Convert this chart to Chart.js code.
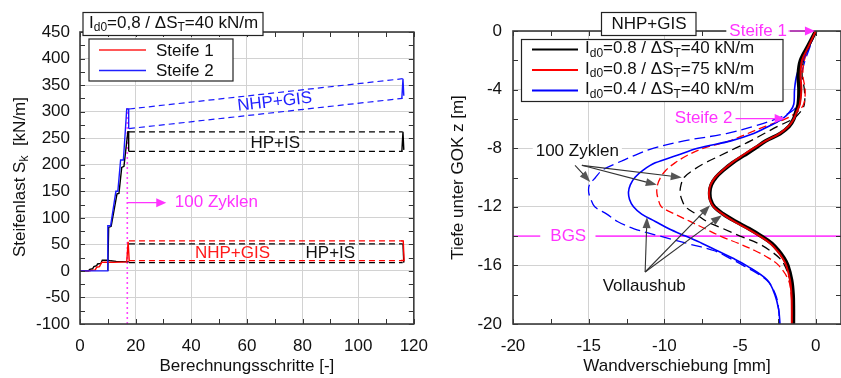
<!DOCTYPE html>
<html>
<head>
<meta charset="utf-8">
<script src="https://cdn.jsdelivr.net/npm/chart.js@4.4.1/dist/chart.umd.min.js"></script>
<style>
  body { margin: 0; background: #fff; }
  #wrap { position: relative; width: 841px; height: 378px; overflow: hidden; }
  .pane { position: absolute; top: 0; height: 378px; }
</style>
</head>
<body>
<div id="wrap">
  <div class="pane" style="left:0;width:440px"><canvas id="left"></canvas></div>
  <div class="pane" style="left:420px;width:421px"><canvas id="right"></canvas></div>
</div>
<script>
const FONT = '"Liberation Sans", Arial, sans-serif';

// ---------- linkes Bild: Steifenlast ueber Berechnungsschritte ----------
// Steife 1, NHP+GIS (rot) und HP+IS (schwarz)
const redS1X = [0, 3.5, 4, 5.5, 6, 7, 7.8, 9, 12, 16.8, 17.3, 17.7];
const redS1Y = [0, 0, 1, 2, 7, 8, 16, 16.5, 16, 17, 55, 18];
const hpS1X = [0, 3, 3.5, 4.5, 5, 6, 6.3, 7.5, 8, 10, 11, 13, 15, 17.6];
const hpS1Y = [0, 0, 3, 4, 8, 10, 13, 14, 20, 20, 19, 18, 17.5, 17];
// Steife 2, NHP+GIS (blau) und HP+IS (schwarz)
const blueS2X = [0, 10, 10, 11, 12.9, 13.6, 14.6, 15.6, 16.8, 17.5, 17.5];
const blueS2Y = [0, 0, 85, 85, 150, 150, 209, 209, 305, 305, 268];
const hpS2X = [10, 10.3, 11.2, 13.3, 14, 15, 15.8, 17.2, 17.5, 17.5];
const hpS2Y = [0, 82, 84, 145, 146, 195, 197, 262, 262, 225];
// 100 Zyklen: Einhuellende (Max / Min)
const cycX = [17.6, 116];
const blueMax = [305, 362], blueMin = [268, 325];
const hpS2Max = [262, 262], hpS2Min = [225, 225];
const redMax = [56.5, 56.5], redMin = [19.5, 19.5];
const hpS1Max = [51, 51], hpS1Min = [15.6, 15.6];
// letzter Zyklus
const blueEndX = [115.7, 116.1, 116.4], blueEndY = [325, 362, 330];
const hpS2EndX = [115.7, 116.1, 116.4], hpS2EndY = [225, 262, 228];
const redEndX = [115.4, 116.2, 116.5, 115.4], redEndY = [56.5, 56.5, 19.5, 19.5];
const hpS1EndX = [116.1, 116.4], hpS1EndY = [51, 15.6];
// Beginn der Zyklen
const zykStepX = [17, 17], zykStepY = [-100, 307];

// ---------- rechtes Bild: Wandverschiebung ueber Tiefe ----------
const depth = [0, -1, -2, -3, -4, -5, -5.5, -6, -6.5, -7, -7.5, -8, -8.5, -9, -9.5, -10,
  -10.5, -11, -11.5, -12, -12.5, -13, -13.5, -14, -14.5, -15, -15.5, -16, -17, -18, -19, -20];
const blackFull = [0, -0.5, -1.0, -1.15, -1.1, -1.15, -1.3, -1.45, -1.75, -2.35, -3.3, -4.0, -4.75, -5.5, -6.1, -6.6,
  -6.9, -7.0, -6.95, -6.7, -6.1, -5.3, -4.4, -3.6, -2.9, -2.45, -2.1, -1.85, -1.6, -1.5, -1.48, -1.48];
const redFull = [0, -0.45, -0.9, -1.0, -0.95, -1.05, -1.25, -1.45, -1.8, -2.4, -3.3, -4.1, -4.85, -5.55, -6.15, -6.65,
  -6.95, -7.05, -7.0, -6.75, -6.15, -5.4, -4.5, -3.7, -3.0, -2.55, -2.2, -1.95, -1.7, -1.6, -1.58, -1.58];
const blueFull = [0, -0.4, -0.85, -1.25, -1.4, -1.45, -1.7, -2.2, -3.1, -4.1, -5.6, -7.8, -9.2, -10.6, -11.4, -11.95,
  -12.25, -12.37, -12.3, -12.04, -11.5, -10.6, -9.7, -8.6, -7.5, -6.5, -5.5, -4.6, -3.2, -2.7, -2.45, -2.36];
const blackCyc = [0, -0.4, -0.8, -0.9, -0.75, -0.75, -1.0, -1.5, -2.5, -3.4, -4.3, -5.3, -6.3, -7.3, -8.1, -8.7,
  -8.9, -8.96, -8.85, -8.6, -7.9, -7.2, -6.1, -5.0, -3.8, -3.0, -2.4, -2.05, -1.7, -1.55, -1.5, -1.5];
const redCyc = [0, -0.4, -0.75, -0.85, -0.7, -0.8, -1.2, -2.0, -3.3, -4.5, -5.7, -7.4, -8.5, -9.3, -9.9, -10.25,
  -10.45, -10.5, -10.4, -10.2, -9.3, -8.3, -7.3, -6.3, -5.1, -4.0, -3.1, -2.45, -1.8, -1.62, -1.58, -1.58];
const blueCyc = [0, -0.35, -0.7, -0.95, -1.05, -1.2, -1.6, -2.6, -4.1, -5.9, -8.7, -10.7, -12.0, -13.1, -14.1, -14.55,
  -14.95, -15.0, -14.85, -14.6, -13.8, -13.1, -12.0, -10.3, -8.5, -6.7, -5.7, -4.8, -3.25, -2.65, -2.45, -2.4];
const bgsDepth = -14;
const bgsLeftX = [-20, -18.2], bgsRightX = [-14.55, 1.7];
const dispTicks = [-20, -15, -10, -5, 0];

// ---------- helpers ----------
function series(xs, ys, color, width, dash) {
  return {
    data: xs.map((x, i) => ({ x: x, y: ys[i] })),
    showLine: true, borderColor: color, backgroundColor: color,
    borderWidth: width, borderDash: dash || [], pointRadius: 0, tension: 0
  };
}
function profile(vals, color, width, dash) {
  const s = series(vals, depth, color, width, dash);
  s.tension = 0.35;
  return s;
}

function rich(ctx, parts, x, y, size, color, dry) {
  ctx.fillStyle = color;
  ctx.textBaseline = 'middle';
  ctx.textAlign = 'left';
  let cx = x;
  for (const p of parts) {
    const sub = p[1];
    ctx.font = (sub ? Math.round(size * 0.72) : size) + 'px ' + FONT;
    if (!dry) ctx.fillText(p[0], cx, sub ? y + size * 0.3 : y);
    cx += ctx.measureText(p[0]).width;
  }
  return cx - x;
}
function text(ctx, s, x, y, color, align, bg) {
  ctx.font = '17px ' + FONT;
  ctx.textAlign = align || 'left';
  ctx.textBaseline = 'middle';
  if (bg) {
    const w = ctx.measureText(s).width;
    const x0 = align === 'right' ? x - w : align === 'center' ? x - w / 2 : x;
    ctx.fillStyle = '#fff';
    ctx.fillRect(x0 - 3, y - 9, w + 6, 18);
  }
  ctx.fillStyle = color;
  ctx.fillText(s, x, y);
}
function box(ctx, x0, y0, x1, y1) {
  ctx.fillStyle = '#fff';
  ctx.fillRect(x0, y0, x1 - x0, y1 - y0);
  ctx.strokeStyle = '#222';
  ctx.lineWidth = 1.2;
  ctx.strokeRect(x0, y0, x1 - x0, y1 - y0);
}
function arrow(ctx, x0, y0, x1, y1, line, head, len, wid) {
  const a = Math.atan2(y1 - y0, x1 - x0), c = Math.cos(a), s = Math.sin(a);
  ctx.strokeStyle = line;
  ctx.lineWidth = 1.1;
  ctx.beginPath();
  ctx.moveTo(x0, y0);
  ctx.lineTo(x1 - c * len * 0.7, y1 - s * len * 0.7);
  ctx.stroke();
  ctx.fillStyle = head;
  ctx.beginPath();
  ctx.moveTo(x1, y1);
  ctx.lineTo(x1 - c * len - s * wid / 2, y1 - s * len + c * wid / 2);
  ctx.lineTo(x1 - c * len + s * wid / 2, y1 - s * len - c * wid / 2);
  ctx.closePath();
  ctx.fill();
}
function frame(ctx, a, xs, ys, xStep, yStep) {
  ctx.save();
  ctx.strokeStyle = '#333';
  ctx.lineWidth = 1;
  ctx.beginPath();
  for (let v = xs.min; v <= xs.max + 1e-6; v += xStep) {
    const p = Math.round(xs.getPixelForValue(v)) + 0.5;
    ctx.moveTo(p, a.bottom); ctx.lineTo(p, a.bottom - 5);
    ctx.moveTo(p, a.top); ctx.lineTo(p, a.top + 5);
  }
  for (let v = ys.min; v <= ys.max + 1e-6; v += yStep) {
    const p = Math.round(ys.getPixelForValue(v)) + 0.5;
    ctx.moveTo(a.left, p); ctx.lineTo(a.left + 5, p);
    ctx.moveTo(a.right, p); ctx.lineTo(a.right - 5, p);
  }
  ctx.stroke();
  ctx.lineWidth = 1.6;
  ctx.strokeStyle = '#3a3a3a';
  ctx.strokeRect(a.left, a.top, a.right - a.left, a.bottom - a.top);
  ctx.restore();
}
const tickFont = { family: FONT, size: 17 };
const gridOpt = { color: '#d2d2d2', lineWidth: 1, drawTicks: false };

// ---------- left chart ----------
const leftNotes = [
  { text: 'HP+IS', x: 70.2, y: 241, color: '#111' },
  { text: 'NHP+GIS', x: 54.8, y: 33.3, color: '#ff1a1a' },
  { text: 'HP+IS', x: 90, y: 33.3, color: '#111' }
];
const leftDeco = {
  id: 'leftDeco',
  afterDatasetsDraw(chart) {
    const { ctx, chartArea: a, scales: { x, y } } = chart;
    ctx.save();
    frame(ctx, a, x, y, 10, 25);
    leftNotes.forEach(n => text(ctx, n.text, x.getPixelForValue(n.x), y.getPixelForValue(n.y), n.color, 'center'));
    // sloped label along the NHP+GIS band
    const ang = Math.atan2(y.getPixelForValue(blueMax[1]) - y.getPixelForValue(blueMax[0]),
      x.getPixelForValue(cycX[1]) - x.getPixelForValue(cycX[0]));
    ctx.save();
    ctx.translate(x.getPixelForValue(70), y.getPixelForValue(318));
    ctx.rotate(ang);
    text(ctx, 'NHP+GIS', 0, 0, '#1f1fff', 'center');
    ctx.restore();
    // 100 Zyklen
    arrow(ctx, x.getPixelForValue(17.2), y.getPixelForValue(128.6), x.getPixelForValue(31), y.getPixelForValue(128.6),
      '#ff33ff', '#ff33ff', 10, 9);
    text(ctx, '100 Zyklen', x.getPixelForValue(34.1), y.getPixelForValue(128.6), '#ff33ff', 'left');
    // title box
    box(ctx, 83, 12.5, 263, 35.5);
    rich(ctx, [['I'], ['d0', 1], ['=0,8 / \u0394S'], ['T', 1], ['=40 kN/m']], 89, 23, 17, '#111');
    // legend
    box(ctx, 89, 39, 233, 81);
    ctx.lineWidth = 1.3;
    ctx.strokeStyle = '#ff2020';
    ctx.beginPath(); ctx.moveTo(99, 50); ctx.lineTo(146, 50); ctx.stroke();
    ctx.strokeStyle = '#2020ff';
    ctx.beginPath(); ctx.moveTo(99, 70.5); ctx.lineTo(146, 70.5); ctx.stroke();
    text(ctx, 'Steife 1', 156, 51, '#111');
    text(ctx, 'Steife 2', 156, 71, '#111');
    // y title with subscript
    ctx.save();
    ctx.translate(20, 177);
    ctx.rotate(-Math.PI / 2);
    const yt = [['Steifenlast S'], ['k', 1], ['  [kN/m]']];
    const w = rich(ctx, yt, 0, 0, 17, '#111', true);
    rich(ctx, yt, -w / 2, 0, 17, '#111');
    ctx.restore();
    ctx.restore();
  }
};

const leftSets = [
  series(blueS2X, blueS2Y, '#1a1aff', 1.4),
  series(blueEndX, blueEndY, '#1a1aff', 1.4),
  series(cycX, blueMax, '#1a1aff', 1.2, [6, 4]),
  series(cycX, blueMin, '#1a1aff', 1.2, [6, 4]),
  series(redS1X, redS1Y, '#ff0000', 1.4),
  series(redEndX, redEndY, '#ff0000', 1.4),
  series(cycX, redMax, '#ff0000', 1.2, [6, 4]),
  series(cycX, redMin, '#ff0000', 1.2, [6, 4]),
  series(hpS2X, hpS2Y, '#000', 1.4),
  series(hpS2EndX, hpS2EndY, '#000', 1.4),
  series(cycX, hpS2Max, '#000', 1.2, [6, 4]),
  series(cycX, hpS2Min, '#000', 1.2, [6, 4]),
  series(hpS1X, hpS1Y, '#000', 1.4),
  series(hpS1EndX, hpS1EndY, '#000', 1.4),
  series(cycX, hpS1Max, '#000', 1.2, [6, 4]),
  series(cycX, hpS1Min, '#000', 1.2, [6, 4]),
  series(zykStepX, zykStepY, '#ff44ff', 1.6, [2, 3])
];

new Chart(document.getElementById('left'), {
  type: 'scatter',
  data: { datasets: leftSets },
  options: {
    responsive: true, maintainAspectRatio: false, animation: false,
    layout: { padding: { top: 32, right: 26, left: 0, bottom: 0 } },
    plugins: { legend: { display: false }, tooltip: { enabled: false } },
    scales: {
      x: {
        type: 'linear', min: 0, max: 120,
        afterFit: s => { s.height = 54; },
        ticks: { stepSize: 20, padding: 12, color: '#111', font: tickFont, maxRotation: 0 },
        grid: gridOpt, border: { display: false },
        title: { display: true, text: 'Berechnungsschritte [-]', color: '#111', font: tickFont, padding: { bottom: 1 } }
      },
      y: {
        type: 'linear', min: -100, max: 450,
        afterFit: s => { s.width = 80; },
        ticks: { stepSize: 50, padding: 10, color: '#111', font: tickFont },
        grid: gridOpt, border: { display: false }
      }
    }
  },
  plugins: [leftDeco]
});

// ---------- right chart ----------
const rightDeco = {
  id: 'rightDeco',
  afterDatasetsDraw(chart) {
    const { ctx, chartArea: a, scales: { x, y } } = chart;
    const X = v => x.getPixelForValue(v), Y = v => y.getPixelForValue(v);
    ctx.save();
    frame(ctx, a, x, y, 2.5, 2);
    // BGS
    text(ctx, 'BGS', X(-16.35), Y(bgsDepth), '#ff33ff', 'center');
    // Steife markers
    text(ctx, 'Steife 1', X(-1.9), Y(0), '#ff33ff', 'right', true);
    arrow(ctx, X(-1.8), Y(0), X(-0.05), Y(0), '#ff33ff', '#ff33ff', 10, 9);
    text(ctx, 'Steife 2', X(-5.5), Y(-5.98), '#ff33ff', 'right');
    arrow(ctx, X(-5.3), Y(-5.98), X(-2.05), Y(-5.98), '#ff33ff', '#ff33ff', 10, 9);
    // 100 Zyklen
    text(ctx, '100 Zyklen', X(-18.5), Y(-8.2), '#111', 'left', true);
    arrow(ctx, X(-15.9), Y(-9.17), X(-14.9), Y(-10.3), '#333', '#555', 11, 8);
    arrow(ctx, X(-15.45), Y(-9.17), X(-10.5), Y(-10.5), '#333', '#555', 11, 8);
    arrow(ctx, X(-15.45), Y(-9.17), X(-8.85), Y(-10.0), '#333', '#555', 11, 8);
    // Vollaushub
    text(ctx, 'Vollaushub', X(-11.33), Y(-17.43), '#111', 'center');
    arrow(ctx, X(-11.27), Y(-16.45), X(-11.15), Y(-12.7), '#333', '#555', 11, 8);
    arrow(ctx, X(-11.27), Y(-16.45), X(-6.98), Y(-11.9), '#333', '#555', 11, 8);
    arrow(ctx, X(-11.27), Y(-16.45), X(-6.2), Y(-12.58), '#333', '#555', 11, 8);
    // title box
    box(ctx, 181.5, 12.5, 276, 35.5);
    text(ctx, 'NHP+GIS', 229, 24, '#111', 'center');
    // legend
    box(ctx, 101.5, 39.5, 363, 101.5);
    const rows = [
      ['#000', [['I'], ['d0', 1], ['=0.8 / \u0394S'], ['T', 1], ['=40 kN/m']], 49.5],
      ['#ff0000', [['I'], ['d0', 1], ['=0.8 / \u0394S'], ['T', 1], ['=75 kN/m']], 70],
      ['#0000ff', [['I'], ['d0', 1], ['=0.4 / \u0394S'], ['T', 1], ['=40 kN/m']], 90.5]
    ];
    rows.forEach(r => {
      ctx.strokeStyle = r[0];
      ctx.lineWidth = 1.8;
      ctx.beginPath(); ctx.moveTo(112, r[2]); ctx.lineTo(158, r[2]); ctx.stroke();
      rich(ctx, r[1], 165, r[2] - 1, 17, '#111');
    });
    ctx.restore();
  }
};

const rightSets = [
  profile(redFull, '#e00000', 2.0),
  profile(blackFull, '#000', 3.8),
  profile(blueFull, '#0000ff', 1.6),
  profile(redCyc, '#ff0000', 1.3, [8, 4]),
  profile(blackCyc, '#000', 1.3, [9, 5]),
  profile(blueCyc, '#0000ff', 1.3, [11, 5]),
  series(bgsLeftX, [bgsDepth, bgsDepth], '#ff44ff', 1.6),
  series(bgsRightX, [bgsDepth, bgsDepth], '#ff44ff', 1.6)
];

new Chart(document.getElementById('right'), {
  type: 'scatter',
  data: { datasets: rightSets },
  options: {
    responsive: true, maintainAspectRatio: false, animation: false,
    layout: { padding: { top: 31, right: 0, left: 0, bottom: 0 } },
    plugins: { legend: { display: false }, tooltip: { enabled: false } },
    scales: {
      x: {
        type: 'linear', min: -20, max: 1.67,
        afterBuildTicks: s => { s.ticks = dispTicks.map(v => ({ value: v })); },
        afterFit: s => { s.height = 54; },
        ticks: { padding: 12, color: '#111', font: tickFont, maxRotation: 0 },
        grid: gridOpt, border: { display: false },
        title: { display: true, text: 'Wandverschiebung [mm]', color: '#111', font: tickFont, padding: { bottom: 1 } }
      },
      y: {
        type: 'linear', min: -20, max: 0,
        afterFit: s => { s.width = 93; },
        ticks: { stepSize: 4, padding: 11, color: '#111', font: tickFont },
        grid: gridOpt, border: { display: false },
        title: { display: true, text: 'Tiefe unter GOK z [m]', color: '#111', font: tickFont, padding: { top: 28 } }
      }
    }
  },
  plugins: [rightDeco]
});
</script>
</body>
</html>
